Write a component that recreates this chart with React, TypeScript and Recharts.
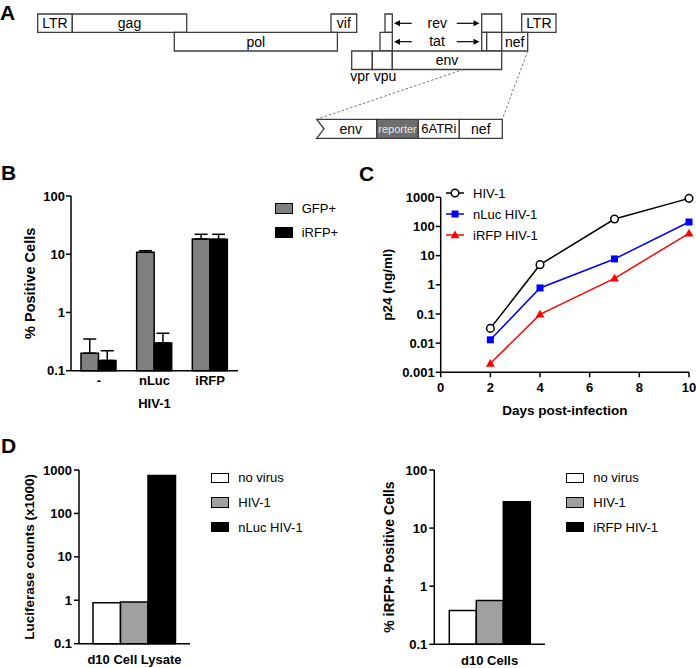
import React from 'react';
import {
  ComposedChart, BarChart, LineChart, Bar, Line, Scatter, XAxis, YAxis, ErrorBar, Legend,
  ReferenceArea, ReferenceLine, ReferenceDot,
} from 'recharts';

const FONT = '"Liberation Sans", Arial, Helvetica, sans-serif';

// ---------------- Panel A: genome map (map units) ----------------
const genomeLanes = [[14, 32.3], [32.3, 51], [51, 69.5]];
const genomeBoxes = [
  { label: 'LTR', start: 37.7, end: 72.3, lane: 0 },
  { label: 'gag', start: 72.3, end: 186.7, lane: 0 },
  { label: 'vif', start: 331, end: 356.7, lane: 0 },
  { label: '', start: 385, end: 392.3, lane: 0 },
  { label: '', start: 481.7, end: 501.7, lane: 0 },
  { label: 'LTR', start: 521.7, end: 556, lane: 0 },
  { label: 'pol', start: 174.3, end: 337.4, lane: 1 },
  { label: '', start: 380, end: 392.3, lane: 1 },
  { label: '', start: 481.7, end: 486.7, lane: 1 },
  { label: '', start: 486.7, end: 501.7, lane: 1 },
  { label: 'nef', start: 501.7, end: 527.7, lane: 1 },
  { label: '', start: 351.7, end: 372.3, lane: 2 },
  { label: '', start: 372.3, end: 392.3, lane: 2 },
  { label: 'env', start: 392.3, end: 501.7, lane: 2 },
];
const genomeTexts = [
  { text: 'rev', x: 437.3, y: 23.3 },
  { text: 'tat', x: 437, y: 40.7 },
  { text: 'vpr', x: 360, y: 76 },
  { text: 'vpu', x: 385, y: 76 },
];
const genomeArrows = [
  { from: 411.7, to: 394, y: 23.3 },
  { from: 456.7, to: 479.5, y: 23.3 },
  { from: 411.7, to: 394, y: 41.7 },
  { from: 456.7, to: 479.5, y: 41.7 },
];
const genomeLinks = [
  { x1: 463.3, y1: 69.5, x2: 316.7, y2: 119.3 },
  { x1: 527.7, y1: 51, x2: 502.3, y2: 119.3 },
];
const insetLane = [119.3, 138.3];
const insetBoxes = [
  { label: 'env', start: 316.7, end: 376.7, kind: 'chevron' },
  { label: 'reporter', start: 376.7, end: 418.3, kind: 'reporter' },
  { label: '6ATRi', start: 418.3, end: 459.3, kind: 'plain' },
  { label: 'nef', start: 459.3, end: 502.3, kind: 'plain' },
];

// ---------------- Panel B ----------------
const bCategories = ['-', 'nLuc', 'iRFP'];
const bGfp = [0.2, 10.8, 18.2];
const bGfpUpper = [0.35, 11.5, 22];
const bIrfp = [0.15, 0.3, 18];
const bIrfpUpper = [0.22, 0.44, 22];
const bTicks = [0.1, 1, 10, 100];

// ---------------- Panel C ----------------
const cDays = [2, 4, 7, 10];
const cHiv = [0.032, 4.9, 180, 920];
const cNluc = [0.013, 0.78, 7.7, 142];
const cIrfp = [0.002, 0.097, 1.67, 58];
const cXTicks = [0, 2, 4, 6, 8, 10];
const cYTicks = [0.001, 0.01, 0.1, 1, 10, 100, 1000];

// ---------------- Panel D ----------------
const dLeftCategory = ['d10 Cell Lysate'];
const dLeftNoVirus = [0.88];
const dLeftHiv = [0.91];
const dLeftNluc = [750];
const dLeftTicks = [0.1, 1, 10, 100, 1000];
const dRightCategory = ['d10 Cells'];
const dRightNoVirus = [0.38];
const dRightHiv = [0.57];
const dRightIrfp = [28.5];
const dRightTicks = [0.1, 1, 10, 100];

// ---------------- tables ----------------
const genomeAnchors = genomeBoxes.map((b) => ({ x: b.start, y: genomeLanes[b.lane][0] }));
const bTable = bCategories.map((c, i) => ({
  cat: c,
  gfp: bGfp[i],
  gfpErr: [0, bGfpUpper[i] - bGfp[i]],
  irfp: bIrfp[i],
  irfpErr: [0, bIrfpUpper[i] - bIrfp[i]],
}));
const cTable = cDays.map((d, i) => ({ day: d, hiv: cHiv[i], nluc: cNluc[i], irfp: cIrfp[i] }));
const dLeftTable = dLeftCategory.map((c, i) => ({ cat: c, none: dLeftNoVirus[i], hiv: dLeftHiv[i], rep: dLeftNluc[i] }));
const dRightTable = dRightCategory.map((c, i) => ({ cat: c, none: dRightNoVirus[i], hiv: dRightHiv[i], rep: dRightIrfp[i] }));

// ---------------- styles ----------------
const BOX = '#3c3c3c';
const AXIS = { stroke: '#000', strokeWidth: 1.5 };
const TICK = { fill: '#000', fontSize: 13, fontWeight: 700 };
const fmt = (v: number) => String(v);

const bSeries = [
  { key: 'gfp', err: 'gfpErr', name: 'GFP+', fill: '#808080' },
  { key: 'irfp', err: 'irfpErr', name: 'iRFP+', fill: '#000000' },
];
const cSeries = [
  { key: 'hiv', name: 'HIV-1', color: '#000000', marker: 'circle' },
  { key: 'nluc', name: 'nLuc HIV-1', color: '#0000ff', marker: 'square' },
  { key: 'irfp', name: 'iRFP HIV-1', color: '#ff0000', marker: 'triangle' },
];
const dLeftSeries = [
  { key: 'none', name: 'no virus', fill: '#ffffff' },
  { key: 'hiv', name: 'HIV-1', fill: '#a0a0a0' },
  { key: 'rep', name: 'nLuc HIV-1', fill: '#000000' },
];
const dRightSeries = [
  { key: 'none', name: 'no virus', fill: '#ffffff' },
  { key: 'hiv', name: 'HIV-1', fill: '#a0a0a0' },
  { key: 'rep', name: 'iRFP HIV-1', fill: '#000000' },
];

// ---------------- helpers ----------------
const yTitle = (text: string, bx: number, size: number) => (props: any) => {
  const vb = props.viewBox ?? props;
  const cy = vb.y + vb.height / 2;
  return (
    <text x={bx} y={cy} transform={`rotate(-90 ${bx} ${cy})`} textAnchor="middle"
      fontSize={size} fontWeight={700} fill="#000">{text}</text>
  );
};
const xTitle = (text: string, dy: number, size: number) => (props: any) => {
  const vb = props.viewBox ?? props;
  const cx = vb.x + vb.width / 2;
  return (
    <text x={cx} y={vb.y + dy} textAnchor="middle" fontSize={size} fontWeight={700} fill="#000">{text}</text>
  );
};

function MarkerShape({ kind, cx, cy, color }: { kind: string; cx: number; cy: number; color: string }) {
  if (kind === 'circle') return <circle cx={cx} cy={cy} r={3.8} fill="#fff" stroke={color} strokeWidth={1.5} />;
  if (kind === 'square') return <rect x={cx - 3.5} y={cy - 3.5} width={7} height={7} fill={color} />;
  return <polygon points={`${cx},${cy - 4.6} ${cx + 4.4},${cy + 3.2} ${cx - 4.4},${cy + 3.2}`} fill={color} />;
}

const boxLegend = (series: any[], rowH: number, sw: number, sh: number, gap: number) => () => (
  <div style={{ fontFamily: FONT, fontSize: 13, color: '#000' }}>
    {series.map((s) => (
      <div key={s.key} style={{ display: 'flex', alignItems: 'center', height: rowH, whiteSpace: 'nowrap' }}>
        <span style={{ display: 'inline-block', width: sw, height: sh, background: s.fill, border: '1.5px solid #000', boxSizing: 'border-box' }} />
        <span style={{ marginLeft: gap }}>{s.name}</span>
      </div>
    ))}
  </div>
);

const lineLegend = () => (
  <div style={{ fontFamily: FONT, fontSize: 13, color: '#000' }}>
    {cSeries.map((s) => (
      <div key={s.key} style={{ display: 'flex', alignItems: 'center', height: 21, whiteSpace: 'nowrap' }}>
        <svg width={18} height={12} style={{ overflow: 'visible' }}>
          <line x1={0} y1={6} x2={18} y2={6} stroke={s.color} strokeWidth={1.5} />
          <MarkerShape kind={s.marker} cx={9} cy={6} color={s.color} />
        </svg>
        <span style={{ marginLeft: 9 }}>{s.name}</span>
      </div>
    ))}
  </div>
);

const arrowShape = (p: any) => {
  const { x1, y1, x2, y2 } = p;
  const dx = x2 - x1, dy = y2 - y1;
  const len = Math.hypot(dx, dy) || 1;
  const ux = dx / len, uy = dy / len;
  const hl = 6, hw = 3;
  const bx = x2 - ux * hl, by = y2 - uy * hl;
  return (
    <g>
      <line x1={x1} y1={y1} x2={bx} y2={by} stroke="#000" strokeWidth={1.2} />
      <polygon points={`${x2},${y2} ${bx - uy * hw},${by + ux * hw} ${bx + uy * hw},${by - ux * hw}`} fill="#000" />
    </g>
  );
};

const chevronShape = (p: any) => {
  const { x, y, width, height } = p;
  const n = 7.3;
  return (
    <path d={`M${x},${y} L${x + width},${y} L${x + width},${y + height} L${x},${y + height} L${x + n},${y + height / 2} Z`}
      fill="#fff" stroke={BOX} strokeWidth={1.3} />
  );
};

// ---------------- panels ----------------
function PanelA() {
  return (
    <ComposedChart width={696} height={150} data={genomeAnchors} margin={{ top: 0, right: 0, bottom: 0, left: 0 }}>
      <XAxis type="number" dataKey="x" domain={[0, 696]} hide allowDataOverflow />
      <YAxis type="number" dataKey="y" domain={[0, 150]} reversed hide allowDataOverflow />
      <Scatter dataKey="y" fill="none" stroke="none" isAnimationActive={false} legendType="none" />
      {genomeLinks.map((l, i) => (
        <ReferenceLine key={'lk' + i} segment={[{ x: l.x1, y: l.y1 }, { x: l.x2, y: l.y2 }]}
          stroke="#777" strokeDasharray="2.5 2" strokeWidth={1} ifOverflow="visible" />
      ))}
      {genomeBoxes.map((b, i) => (
        <ReferenceArea key={'gb' + i} x1={b.start} x2={b.end} y1={genomeLanes[b.lane][0]} y2={genomeLanes[b.lane][1]}
          fill="#fff" fillOpacity={1} stroke={BOX} strokeWidth={1.3} ifOverflow="visible"
          label={b.label ? { value: b.label, position: 'center', fill: '#000', fontSize: 14 } : undefined} />
      ))}
      {insetBoxes.map((b, i) => (
        <ReferenceArea key={'ib' + i} x1={b.start} x2={b.end} y1={insetLane[0]} y2={insetLane[1]}
          fill={b.kind === 'reporter' ? '#6e6e6e' : '#fff'} fillOpacity={1} stroke={BOX} strokeWidth={1.3}
          ifOverflow="visible"
          shape={b.kind === 'chevron' ? chevronShape : undefined}
          label={{
            value: b.label, position: 'center',
            fill: b.kind === 'reporter' ? '#e8e8e8' : '#000',
            fontSize: b.kind === 'reporter' ? 11 : b.label === '6ATRi' ? 13 : 14,
            dx: b.kind === 'chevron' ? 4 : 0,
          }} />
      ))}
      {genomeArrows.map((a, i) => (
        <ReferenceLine key={'ar' + i} segment={[{ x: a.from, y: a.y }, { x: a.to, y: a.y }]}
          stroke="#000" ifOverflow="visible" shape={arrowShape} />
      ))}
      {genomeTexts.map((t, i) => (
        <ReferenceDot key={'tx' + i} x={t.x} y={t.y} r={0} fill="none" stroke="none" ifOverflow="visible"
          label={{ value: t.text, position: 'center', fill: '#000', fontSize: 14 }} />
      ))}
    </ComposedChart>
  );
}

function PanelB() {
  return (
    <BarChart width={340} height={250} data={bTable} margin={{ top: 16, right: 102, bottom: 14.3, left: 0 }}
      barGap={0} barSize={17.5}>
      <XAxis dataKey="cat" type="category" axisLine={AXIS} tickLine={false} tickSize={0} tickMargin={5}
        tick={TICK} interval={0} height={45} label={xTitle('HIV-1', 37.6, 13)} />
      <YAxis scale="log" type="number" domain={[0.1, 100]} ticks={bTicks} tickFormatter={fmt} axisLine={AXIS}
        tickLine={AXIS} tickSize={5} tickMargin={1} tick={TICK} width={71}
        label={yTitle('% Positive Cells', 35, 14.5)} />
      {bSeries.map((s) => (
        <Bar key={s.key} dataKey={s.key} name={s.name} fill={s.fill} stroke="#000" strokeWidth={1.5}
          isAnimationActive={false}>
          <ErrorBar dataKey={s.err} width={6.5} stroke="#000" strokeWidth={1.5} direction="y" />
        </Bar>
      ))}
      <Legend layout="vertical" align="center" verticalAlign="middle"
        wrapperStyle={{ left: 275, top: 15.75, width: 70 }} content={boxLegend(bSeries, 24.5, 18, 11, 8.7)} />
    </BarChart>
  );
}

function PanelC() {
  return (
    <LineChart width={356} height={250} data={cTable} margin={{ top: 17.3, right: 7, bottom: 7.7, left: 0 }}>
      <XAxis type="number" dataKey="day" domain={[0, 10]} ticks={cXTicks} axisLine={AXIS} tickLine={AXIS}
        tickSize={5} tickMargin={5} tick={TICK} interval={0} height={50}
        label={xTitle('Days post-infection', 42.3, 13.5)} />
      <YAxis scale="log" type="number" domain={[0.001, 1000]} ticks={cYTicks} tickFormatter={fmt} axisLine={AXIS}
        tickLine={AXIS} tickSize={5} tickMargin={1} tick={TICK} width={100.7} interval={0}
        label={yTitle('p24 (ng/ml)', 52.5, 13.5)} />
      {cSeries.map((s) => (
        <Line key={s.key} type="linear" dataKey={s.key} name={s.name} stroke={s.color} strokeWidth={1.5}
          isAnimationActive={false} activeDot={false}
          dot={(p: any) => <MarkerShape key={s.key + p.index} kind={s.marker} cx={p.cx} cy={p.cy} color={s.color} />} />
      ))}
      <Legend layout="vertical" align="center" verticalAlign="middle"
        wrapperStyle={{ left: 106, top: 2.8, width: 120 }} content={lineLegend} />
    </LineChart>
  );
}

function PanelD({ table, series, ticks, domain, yw, right, xh, title, tbx, tsize, barSize, legendLeft }: any) {
  return (
    <BarChart width={right.w} height={213} data={table} margin={{ top: 15, right: right.m, bottom: 0, left: 0 }}
      barGap={0} barSize={barSize}>
      <XAxis dataKey="cat" type="category" axisLine={AXIS} tickLine={false} tickSize={0} tickMargin={11}
        tick={TICK} interval={0} height={xh} />
      <YAxis scale="log" type="number" domain={domain} ticks={ticks} tickFormatter={fmt} axisLine={AXIS}
        tickLine={AXIS} tickSize={5} tickMargin={2} tick={TICK} width={yw} interval={0}
        label={yTitle(title, tbx, tsize)} />
      {series.map((s: any) => (
        <Bar key={s.key} dataKey={s.key} name={s.name} fill={s.fill} stroke="#000" strokeWidth={1.5}
          isAnimationActive={false} />
      ))}
      <Legend layout="vertical" align="center" verticalAlign="middle"
        wrapperStyle={{ left: legendLeft, top: 10.7, width: 110 }} content={boxLegend(series, 24.6, 18.3, 10.5, 9)} />
    </BarChart>
  );
}

export default function App() {
  const abs = (left: number, top: number): React.CSSProperties => ({ position: 'absolute', left, top });
  return (
    <div style={{ position: 'absolute', left: 0, top: 0, width: 696, height: 668, background: '#fff', fontFamily: FONT, overflow: 'hidden' }}>
      <div style={abs(0, 0)}><PanelA /></div>
      <div style={abs(0, 180)}><PanelB /></div>
      <div style={abs(340, 180)}><PanelC /></div>
      <div style={abs(0, 455)}>
        <PanelD table={dLeftTable} series={dLeftSeries} ticks={dLeftTicks} domain={[0.1, 1000]} yw={79}
          right={{ w: 340, m: 150 }} xh={24.3} title="Luciferase  counts (x1000)" tbx={34} tsize={13.5}
          barSize={27.5} legendLeft={211} />
      </div>
      <div style={abs(340, 455)}>
        <PanelD table={dRightTable} series={dRightSeries} ticks={dRightTicks} domain={[0.1, 100]} yw={94.3}
          right={{ w: 356, m: 151 }} xh={23.7} title="% iRFP+ Positive Cells" tbx={54} tsize={14}
          barSize={27} legendLeft={226} />
      </div>
      <svg width={696} height={668} style={{ position: 'absolute', left: 0, top: 0, pointerEvents: 'none' }}>
        <text x={0} y={20} fontSize={21} fontWeight={700} fill="#000">A</text>
        <text x={1} y={180} fontSize={21} fontWeight={700} fill="#000">B</text>
        <text x={359} y={181} fontSize={21} fontWeight={700} fill="#000">C</text>
        <text x={1} y={453} fontSize={21} fontWeight={700} fill="#000">D</text>
      </svg>
    </div>
  );
}
